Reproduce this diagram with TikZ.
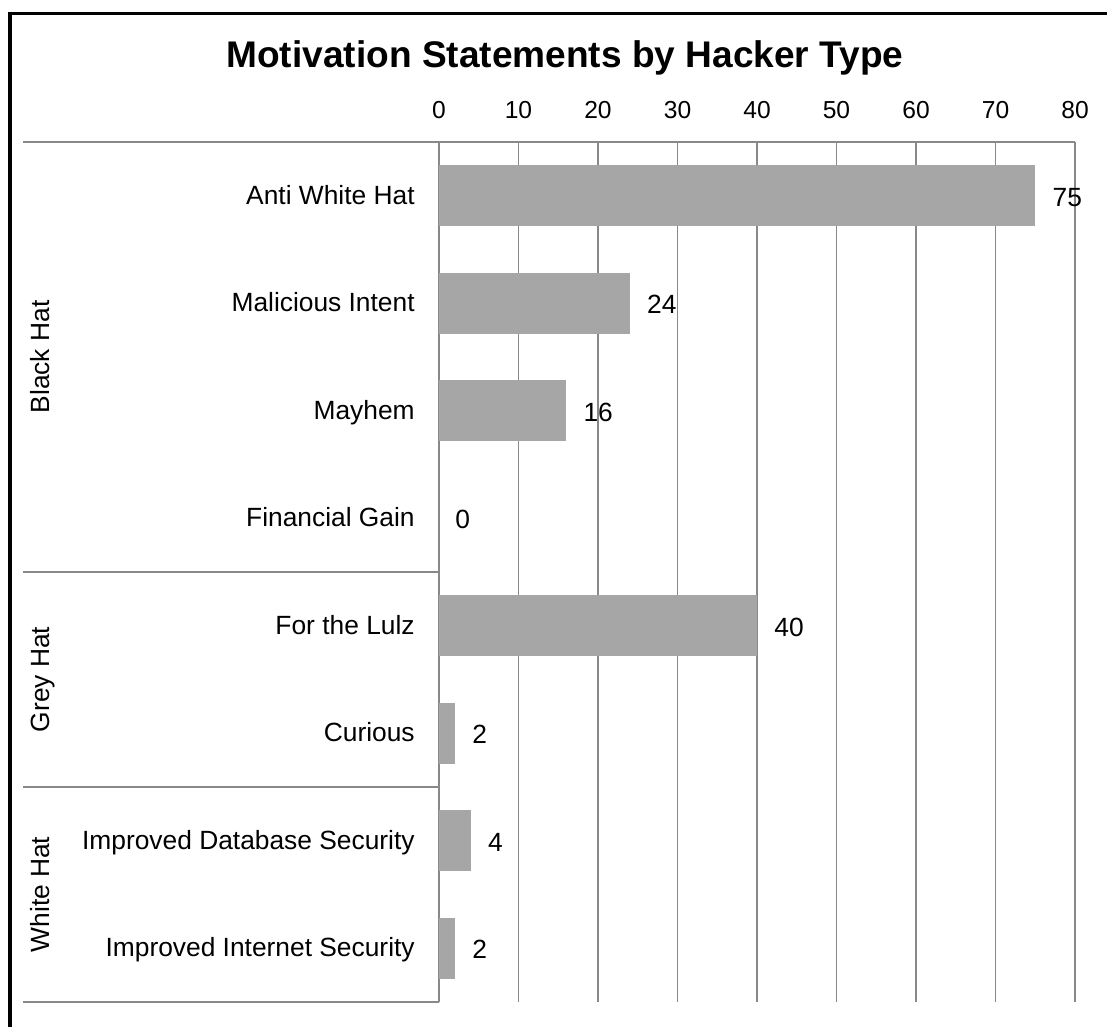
\documentclass[tikz,border=0pt]{standalone}
\usepackage{fontspec}
\setmainfont{Liberation Sans}
\definecolor{barfill}{HTML}{A6A6A6}
\definecolor{gridgray}{HTML}{898989}
\tikzset{
  gridline/.style={draw=gridgray, line width=1.1pt},
  hbar/.style={fill=barfill},
  ticklabel/.style={anchor=base, inner sep=0pt, font=\fontsize{14pt}{16pt}\selectfont},
  catlabel/.style={anchor=base east, inner sep=0pt, font=\fontsize{15pt}{17pt}\selectfont},
  vallabel/.style={anchor=base west, inner sep=0pt, font=\fontsize{15pt}{17pt}\selectfont},
  grouplabel/.style={anchor=base, rotate=90, inner sep=0pt, font=\fontsize{15pt}{17pt}\selectfont}
}
\begin{document}
\begin{tikzpicture}[x=0.02cm, y=-0.02cm]
\useasboundingbox (0,0) rectangle (1107,1027);

% frame
\draw [line width=2.5pt] (10,12) -- (10,1027);
\draw [line width=1.7pt] (8,13.5) -- (1107,13.5);

\node (title) at (565,68) [anchor=base, inner sep=0pt, font=\fontsize{21.1pt}{24pt}\selectfont\bfseries]{Motivation Statements by Hacker Type};

% value axis
\node (t0) at (439,119) [ticklabel]{0};
\node (t10) at (518.5,119) [ticklabel]{10};
\node (t20) at (598,119) [ticklabel]{20};
\node (t30) at (677.5,119) [ticklabel]{30};
\node (t40) at (757,119) [ticklabel]{40};
\node (t50) at (836.5,119) [ticklabel]{50};
\node (t60) at (916,119) [ticklabel]{60};
\node (t70) at (995.5,119) [ticklabel]{70};
\node (t80) at (1075,119) [ticklabel]{80};

\draw [gridline] (518.5,142) -- (518.5,1002);
\draw [gridline] (598,142) -- (598,1002);
\draw [gridline] (677.5,142) -- (677.5,1002);
\draw [gridline] (757,142) -- (757,1002);
\draw [gridline] (836.5,142) -- (836.5,1002);
\draw [gridline] (916,142) -- (916,1002);
\draw [gridline] (995.5,142) -- (995.5,1002);
\draw [gridline] (1075,142) -- (1075,1002);

% category axis and group separators
\draw [gridline] (23,142) -- (1075,142);
\draw [gridline] (439,142) -- (439,1002);
\draw [gridline] (23,572) -- (439,572);
\draw [gridline] (23,787) -- (439,787);
\draw [gridline] (23,1002) -- (439,1002);

% bars
\path [hbar] (439,165.25) rectangle (1035.25,226.25);
\path [hbar] (439,272.75) rectangle (629.8,333.75);
\path [hbar] (439,380.25) rectangle (566.2,441.25);
\path [hbar] (439,595.25) rectangle (757,656.25);
\path [hbar] (439,702.75) rectangle (454.9,763.75);
\path [hbar] (439,810.25) rectangle (470.8,871.25);
\path [hbar] (439,917.75) rectangle (454.9,978.75);

% category labels
\node (c-awh) at (415,204.35) [catlabel]{Anti White Hat};
\node (c-mal) at (415,311.85) [catlabel]{Malicious Intent};
\node (c-may) at (415,419.35) [catlabel]{Mayhem};
\node (c-fin) at (415,526.85) [catlabel]{Financial Gain};
\node (c-lulz) at (415,634.35) [catlabel]{For the Lulz};
\node (c-cur) at (415,741.85) [catlabel]{Curious};
\node (c-db) at (415,849.35) [catlabel]{Improved Database Security};
\node (c-net) at (415,956.85) [catlabel]{Improved Internet Security};

% value labels
\node (v-awh) at (1052.25,206.25) [vallabel]{75};
\node (v-mal) at (646.8,313.75) [vallabel]{24};
\node (v-may) at (583.2,421.25) [vallabel]{16};
\node (v-fin) at (455,528.75) [vallabel]{0};
\node (v-lulz) at (774,636.25) [vallabel]{40};
\node (v-cur) at (471.9,743.75) [vallabel]{2};
\node (v-db) at (487.8,851.25) [vallabel]{4};
\node (v-net) at (471.9,958.75) [vallabel]{2};

% hacker types
\node (g-black) at (50,357) [grouplabel]{Black Hat};
\node (g-grey) at (50,679.5) [grouplabel]{Grey Hat};
\node (g-white) at (50,894.5) [grouplabel]{White Hat};

\end{tikzpicture}
\end{document}
